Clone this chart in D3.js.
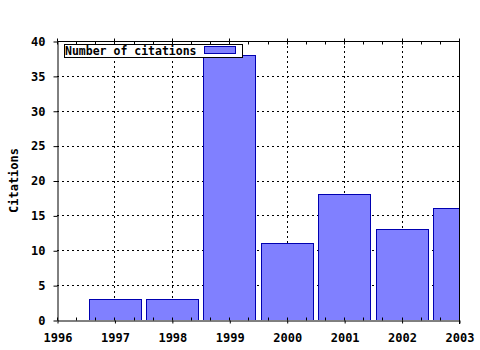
<!DOCTYPE html>
<html>
<head>
<meta charset="utf-8">
<script src="https://cdn.jsdelivr.net/npm/d3@7"></script>
<style>
  body { margin: 0; background: #fff; }
  text { font-family: "DejaVu Sans Mono", "Liberation Mono", monospace; font-weight: bold; font-size: 12px; fill: #000; }
</style>
</head>
<body>
<svg width="480" height="350"></svg>
<script>
let years = [1997, 1998, 1999, 2000, 2001, 2002, 2003];
let citations = [3, 3, 38, 11, 18, 13, 16];
let yTicks = [0, 5, 10, 15, 20, 25, 30, 35, 40];
let xTicks = [1996, 1997, 1998, 1999, 2000, 2001, 2002, 2003];
let seriesName = 'Number of citations';

let pLeft = 57, pTop = 41, pRight = 459, pBottom = 320;

let svg = d3.select('svg');

const xScale = d3.scaleLinear().domain([1996, 2003]).range([pLeft, pRight]);
const yScale = d3.scaleLinear().domain([0, 40]).range([pBottom, pTop]);

svg.append('rect').attr('width', 480).attr('height', 350).attr('fill', '#fff');

// grid lines
svg.append('g')
  .selectAll('line')
  .data(xTicks.slice(1, -1))
  .enter().append('line')
  .attr('x1', d => Math.round(xScale(d)) + 0.5)
  .attr('x2', d => Math.round(xScale(d)) + 0.5)
  .attr('y1', pTop).attr('y2', pBottom)
  .attr('stroke', '#000').attr('stroke-dasharray', '2,3');

svg.append('g')
  .selectAll('line')
  .data(yTicks.slice(1, -1))
  .enter().append('line')
  .attr('y1', d => Math.round(yScale(d)) + 0.5)
  .attr('y2', d => Math.round(yScale(d)) + 0.5)
  .attr('x1', pLeft).attr('x2', pRight)
  .attr('stroke', '#000').attr('stroke-dasharray', '2,3');

svg.append('clipPath').attr('id', 'plot')
  .append('rect').attr('x', pLeft).attr('y', pTop).attr('width', pRight - pLeft).attr('height', pBottom - pTop);

// bars
let barW = xScale(1.9) - xScale(1);
svg.append('g')
  .attr('clip-path', 'url(#plot)')
  .selectAll('rect')
  .data(years.map((y, i) => ({year: y, value: citations[i]})))
  .enter().append('rect')
  .attr('x', d => Math.round(xScale(d.year) - barW / 2) + 0.5)
  .attr('y', d => Math.round(yScale(d.value)) + 0.5)
  .attr('width', Math.round(barW))
  .attr('height', d => Math.round(pBottom - yScale(d.value)))
  .attr('fill', '#8080ff')
  .attr('stroke', '#0000b0')
  .attr('stroke-width', 1);

// axes
const minor = d3.range(1996, 2003.01, 1 / 3);

const xBottom = d3.axisBottom(xScale).tickValues(xTicks).tickFormat(d3.format('d')).tickSizeInner(3).tickSizeOuter(0);
let gb = svg.append('g').attr('transform', `translate(0.5, ${pBottom + 0.5})`).call(xBottom);
gb.selectAll('text').attr('dy', '1.3em');
gb.append('g').selectAll('line').data(minor).enter().append('line')
  .attr('x1', d => Math.round(xScale(d))).attr('x2', d => Math.round(xScale(d)))
  .attr('y1', 0).attr('y2', -3).attr('stroke', '#000');

let gt = svg.append('g').attr('transform', `translate(0.5, ${pTop + 0.5})`);
gt.append('line').attr('x1', pLeft).attr('x2', pRight).attr('stroke', '#000');
gt.selectAll('.m').data(minor).enter().append('line')
  .attr('x1', d => Math.round(xScale(d))).attr('x2', d => Math.round(xScale(d)))
  .attr('y1', 0).attr('y2', 3).attr('stroke', '#000');
gt.selectAll('.M').data(xTicks).enter().append('line')
  .attr('x1', d => Math.round(xScale(d))).attr('x2', d => Math.round(xScale(d)))
  .attr('y1', -3).attr('y2', 0).attr('stroke', '#000');

const yLeft = d3.axisLeft(yScale).tickValues(yTicks).tickSizeInner(4).tickSizeOuter(0).tickPadding(8);
svg.append('g').attr('transform', `translate(${pLeft + 0.5}, 0.5)`).call(yLeft);

svg.append('line').attr('x1', pRight + 0.5).attr('x2', pRight + 0.5).attr('y1', pTop).attr('y2', pBottom + 4).attr('stroke', '#000');

svg.selectAll('.domain').attr('stroke', '#000');
svg.selectAll('.tick line').attr('stroke', '#000');
svg.selectAll('.tick text').style('font-family', '"DejaVu Sans Mono", monospace').style('font-weight', 'bold').style('font-size', '12px');

// legend
let lg = svg.append('g');
lg.append('rect').attr('x', 64.5).attr('y', 44.5).attr('width', 178).attr('height', 13)
  .attr('fill', '#fff').attr('stroke', '#000');
lg.append('text').attr('x', 65).attr('y', 55).style('font-size', '11.5px').text(seriesName);
lg.append('rect').attr('x', 204.5).attr('y', 46.5).attr('width', 31).attr('height', 7)
  .attr('fill', '#8080ff').attr('stroke', '#0000b0');

// y label
svg.append('text')
  .attr('transform', `translate(18, ${(pTop + pBottom) / 2}) rotate(-90)`)
  .attr('text-anchor', 'middle')
  .text('Citations');
</script>
</body>
</html>
